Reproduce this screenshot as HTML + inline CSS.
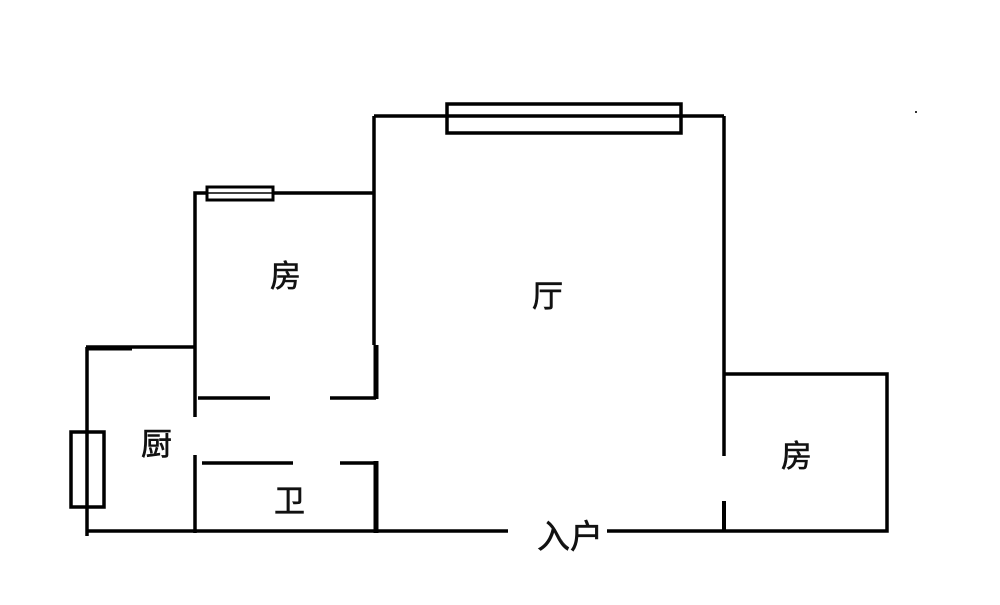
<!DOCTYPE html>
<html><head><meta charset="utf-8"><style>
html,body{margin:0;padding:0;background:#fff}
svg{display:block}
text{font-family:"Liberation Sans","Noto Sans CJK SC",sans-serif;fill:#111;stroke:#111;stroke-width:0.6}
</style></head><body>
<svg width="1000" height="605" viewBox="0 0 1000 605" xmlns="http://www.w3.org/2000/svg">
<g stroke="#000" stroke-width="3.5" fill="none" stroke-linecap="butt">
<!-- hall -->
<line x1="374" y1="116" x2="724" y2="116"/>
<line x1="374" y1="116" x2="374" y2="345"/>
<line x1="376" y1="345" x2="376" y2="399" stroke-width="5"/>
<line x1="376" y1="461" x2="376" y2="533" stroke-width="5"/>
<line x1="724" y1="116" x2="724" y2="456"/>
<line x1="724" y1="501" x2="724" y2="531" stroke-width="4"/>
<rect x="447" y="104" width="234" height="29" fill="#fff"/>
<line x1="447" y1="116" x2="681" y2="116"/>
<!-- right room -->
<polyline points="724,374 887,374 887,531 607,531"/>
<line x1="374" y1="531" x2="508" y2="531"/>
<!-- bedroom left -->
<polyline points="374,193 195,193 195,417"/>
<rect x="207" y="187" width="66" height="13" fill="#fff" stroke-width="3"/>
<line x1="207" y1="193" x2="273" y2="193" stroke-width="1.5"/>
<line x1="198" y1="398" x2="270" y2="398"/>
<line x1="330" y1="398" x2="376" y2="398"/>
<!-- kitchen -->
<line x1="86" y1="347" x2="195" y2="347"/>
<line x1="86" y1="348" x2="132" y2="348" stroke-width="5"/>
<line x1="87" y1="347" x2="87" y2="536"/>
<rect x="71" y="432" width="33" height="75" fill="#fff"/>
<line x1="87" y1="432" x2="87" y2="507"/>
<line x1="195" y1="455" x2="195" y2="533"/>
<!-- bath -->
<line x1="202" y1="463" x2="293" y2="463"/>
<line x1="340" y1="463" x2="376" y2="463"/>
<line x1="87" y1="531" x2="376" y2="531"/>
</g>
<rect x="915" y="111" width="2" height="2" fill="#333"/>
<text x="270" y="287" font-size="31">房</text>
<text x="141" y="455" font-size="31">厨</text>
<text x="274" y="512" font-size="31">卫</text>
<text x="532" y="307" font-size="31">厅</text>
<text x="781" y="467" font-size="31">房</text>
<text x="537" y="548" font-size="33">入户</text>
</svg>
</body></html>
